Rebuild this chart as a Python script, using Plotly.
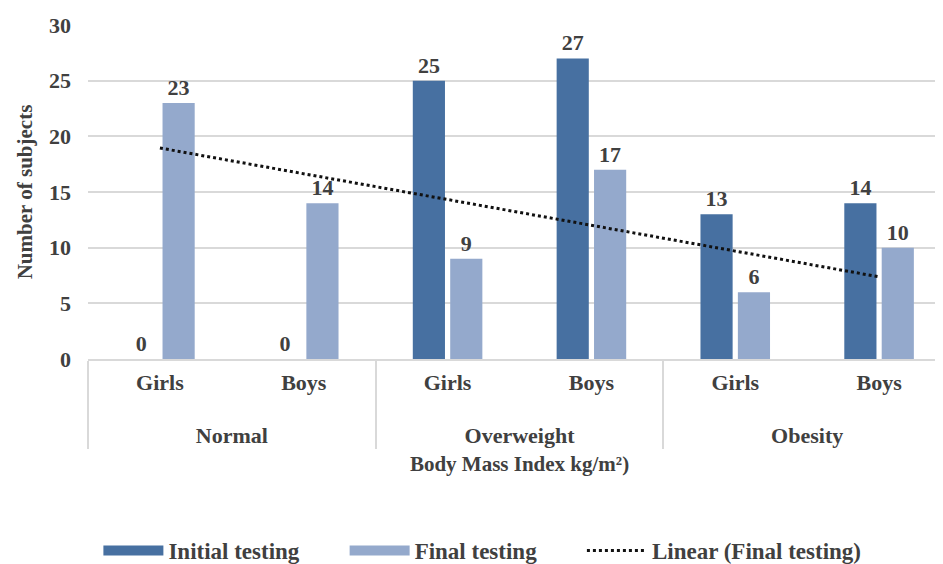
import numpy as np
import plotly.graph_objects as go

# categories
bmi_groups = ["Normal", "Normal", "Overweight", "Overweight", "Obesity", "Obesity"]
sexes = ["Girls", "Boys", "Girls", "Boys", "Girls", "Boys"]

# series
initial_testing = [0, 0, 25, 27, 13, 14]
final_testing = [23, 14, 9, 17, 6, 10]

y_ticks = [0, 5, 10, 15, 20, 25, 30]

FONT = "Liberation Serif, Times New Roman, serif"
TXT = "#404040"
C_INIT = "#4770A1"
C_FINAL = "#94A9CC"
PAD = "\u00a0" * 7


def bfont(size=22):
    return dict(family=FONT, size=size, color=TXT, weight="bold")


# leading <br> pushes the group labels one line lower, like in Excel
x_cat = [["<br>" + g for g in bmi_groups], sexes]

# linear trend of the final testing (Excel "Linear" trendline)
idx = np.arange(1, len(final_testing) + 1)
slope, intercept = np.polyfit(idx, final_testing, 1)
trend = slope * idx + intercept

fig = go.Figure()

fig.add_trace(go.Bar(
    x=x_cat, y=initial_testing, name="Initial testing", showlegend=False,
    marker=dict(color=C_INIT, line=dict(width=0)),
    text=initial_testing, textposition="outside", cliponaxis=False,
    textfont=bfont(22),
))
fig.add_trace(go.Bar(
    x=x_cat, y=final_testing, name="Final testing", showlegend=False,
    marker=dict(color=C_FINAL, line=dict(width=0)),
    text=final_testing, textposition="outside", cliponaxis=False,
    textfont=bfont(22),
))
fig.add_trace(go.Scatter(
    x=x_cat, y=trend, mode="lines", name="Linear (Final testing)",
    line=dict(color="#111111", width=3, dash="dot"), showlegend=False,
))

# legend entries (wide swatches like the Excel legend)
for name, col, dash, w in [("Initial testing" + PAD, C_INIT, "solid", 13),
                           ("Final testing" + PAD, C_FINAL, "solid", 13),
                           ("Linear (Final testing)", "#111111", "dot", 3)]:
    fig.add_trace(go.Scatter(
        x=[None], y=[None], mode="lines", name=name,
        line=dict(color=col, width=w, dash=dash),
    ))

fig.update_layout(
    width=943, height=564,
    margin=dict(l=80, r=0, t=17, b=206),
    paper_bgcolor="white", plot_bgcolor="white",
    font=dict(family=FONT, size=22, color=TXT),
    barmode="group", bargap=0.48, bargroupgap=0.14,
    uniformtext=dict(minsize=8, mode="show"),
    legend=dict(
        orientation="h", x=0.457, xanchor="center", y=-0.575, yanchor="middle",
        font=bfont(23), itemwidth=60, traceorder="normal",
    ),
)

fig.update_yaxes(
    range=[0, 30], tickvals=y_ticks, showgrid=True, gridcolor="#D9D9D9",
    gridwidth=1.5, zeroline=False, showline=False, ticks="",
    tickfont=bfont(22), automargin=False, ticklabelstandoff=16,
    title=dict(text="Number of subjects", standoff=10, font=bfont(21)),
)
fig.update_xaxes(
    type="multicategory", showline=True, linecolor="#D9D9D9", linewidth=1.5,
    showdividers=True, dividercolor="#D9D9D9", dividerwidth=1.5,
    ticks="", tickfont=bfont(22), automargin=False, ticklabelstandoff=3,
    title=dict(text="Body Mass Index kg/m²)", standoff=10, font=bfont(21)),
)

fig.write_html("out.html")
